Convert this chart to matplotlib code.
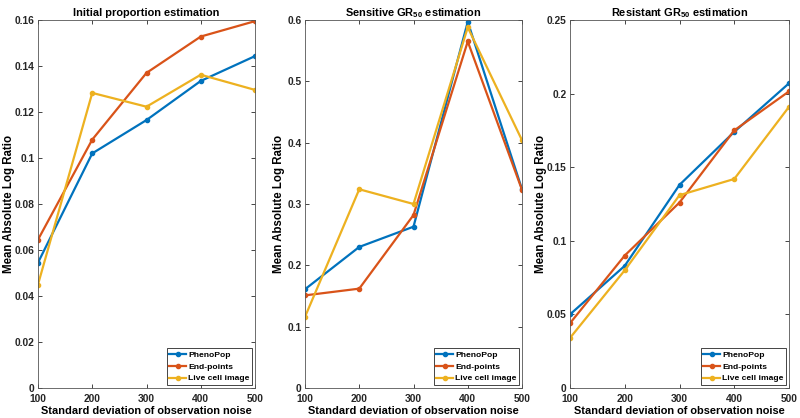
import matplotlib
matplotlib.use("Agg")
import matplotlib.pyplot as plt
from matplotlib.ticker import FuncFormatter

plt.rcParams['font.family'] = ['Liberation Sans', 'DejaVu Sans']
plt.rcParams['font.weight'] = 'bold'
plt.rcParams['mathtext.fontset'] = 'custom'
plt.rcParams['mathtext.bf'] = 'Liberation Sans:bold'
plt.rcParams['mathtext.rm'] = 'Liberation Sans:bold'

noise = [100, 200, 300, 400, 500]
series_names = ["PhenoPop", "End-points", "Live cell image"]
colors = ["#0072BD", "#D95319", "#EDB120"]

titles = ["Initial proportion estimation",
          "Sensitive GR$_{\\mathbf{50}}$ estimation",
          "Resistant GR$_{\\mathbf{50}}$ estimation"]

init_pheno = [0.0545, 0.102, 0.1165, 0.1335, 0.1443]
init_end = [0.0645, 0.108, 0.137, 0.1528, 0.1595]
init_live = [0.045, 0.1283, 0.1223, 0.1362, 0.1296]

sens_pheno = [0.161, 0.230, 0.263, 0.597, 0.324]
sens_end = [0.151, 0.162, 0.282, 0.565, 0.323]
sens_live = [0.116, 0.324, 0.300, 0.588, 0.404]

res_pheno = [0.050, 0.083, 0.138, 0.174, 0.207]
res_end = [0.044, 0.090, 0.126, 0.175, 0.2015]
res_live = [0.034, 0.080, 0.131, 0.142, 0.191]

panels = [
    ([init_pheno, init_end, init_live], 0.16, [0, 0.02, 0.04, 0.06, 0.08, 0.1, 0.12, 0.14, 0.16]),
    ([sens_pheno, sens_end, sens_live], 0.6, [0, 0.1, 0.2, 0.3, 0.4, 0.5, 0.6]),
    ([res_pheno, res_end, res_live], 0.25, [0, 0.05, 0.1, 0.15, 0.2, 0.25]),
]

fig = plt.figure(figsize=(8, 4.18), dpi=100)
lefts = [38, 305, 570]
rights = [255, 522, 789]
ylabel_right = [15, 285, 547]
W, H = 800, 418
fmt = FuncFormatter(lambda v, p: "0" if abs(v) < 1e-12 else ("%g" % round(v, 4)))

for i, (data, ymax, yt) in enumerate(panels):
    width = rights[i] - lefts[i]
    ax = fig.add_axes([lefts[i] / W, (H - 388) / H, width / W, (388 - 20) / H])
    for vals, name, c in zip(data, series_names, colors):
        ax.plot(noise, vals, color=c, lw=1.6, marker='o', ms=3.0, label=name)
    ax.set_xlim(100, 500)
    ax.set_ylim(0, ymax)
    ax.set_xticks(noise)
    ax.set_yticks(yt)
    ax.yaxis.set_major_formatter(fmt)
    ax.tick_params(direction='in', top=True, right=True, labelsize=7.4, length=3,
                   width=0.6, colors='#262626', pad=2.5)
    ax.tick_params(axis='x', pad=4)
    for lab in ax.get_xticklabels() + ax.get_yticklabels():
        lab.set_fontweight('bold')
    for s in ax.spines.values():
        s.set_linewidth(0.6)
        s.set_color('#555555')
    ax.set_title(titles[i], fontsize=7.9, fontweight='bold', pad=2.8)
    ax.set_xlabel("Standard deviation of observation noise", fontsize=7.95,
                  fontweight='bold', labelpad=2)
    ax.set_ylabel("Mean Absolute Log Ratio", fontsize=8.3, fontweight='bold')
    ax.yaxis.set_label_coords((ylabel_right[i] - lefts[i]) / width, 0.5)
    leg = ax.legend(loc='lower right', prop={'weight': 'bold', 'size': 6.1},
                    handlelength=1.9, handletextpad=0.3, borderpad=0.35,
                    labelspacing=0.45, borderaxespad=0.3, fancybox=False,
                    framealpha=1, edgecolor='#262626')
    leg.get_frame().set_linewidth(0.6)

fig.savefig("out.png", dpi=100)
